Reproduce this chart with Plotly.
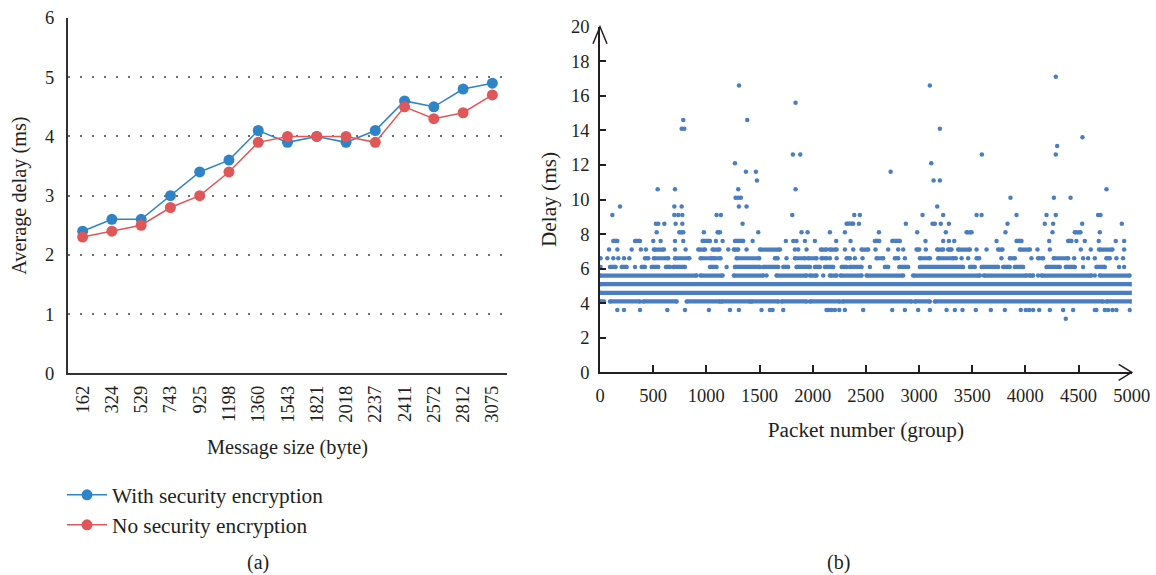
import plotly.graph_objects as go

# ---------------- Panel (a) data ----------------
message_sizes = ["162", "324", "529", "743", "925", "1198", "1360", "1543",
                 "1821", "2018", "2237", "2411", "2572", "2812", "3075"]
with_encryption = [2.4, 2.6, 2.6, 3.0, 3.4, 3.6, 4.1, 3.9, 4.0, 3.9, 4.1, 4.6, 4.5, 4.8, 4.9]
no_encryption = [2.3, 2.4, 2.5, 2.8, 3.0, 3.4, 3.9, 4.0, 4.0, 4.0, 3.9, 4.5, 4.3, 4.4, 4.7]

# ---------------- Panel (b) data ----------------
# Dense stretches of consecutive packets sharing one delay value: (first packet, last packet)
runs_4_1 = [(0, 38), (94, 376), (407, 721), (815, 1128), (1144, 1410), (1425, 1676),
            (1707, 1942), (1974, 2256), (2281, 2930), (2961, 3102), (3149, 4731), (4762, 5000)]
runs_4_6 = [(0, 5000)]
runs_5_1 = [(0, 5000)]
runs_5_6 = [(0, 909), (946, 1153), (1259, 1535), (1660, 1942), (1974, 2036), (2162, 2225),
            (2262, 2460), (2507, 2851), (2945, 3572), (3610, 4010), (4036, 4073),
            (4151, 4621), (4700, 4982)]
runs_6_1 = [(94, 147), (204, 251), (392, 423), (486, 548), (620, 658), (689, 799),
            (1034, 1096), (1269, 1504), (1535, 1676), (1723, 1770), (1848, 1974),
            (2021, 2068), (2115, 2193), (2272, 2319), (2350, 2460), (2679, 2710),
            (2814, 2898), (3008, 3415), (3478, 3525), (3588, 3744), (3791, 3854),
            (3901, 3979), (4199, 4324), (4380, 4465), (4668, 4747)]
runs_6_6 = [(423, 454), (507, 642), (705, 840), (946, 1050), (1071, 1134), (1285, 1497),
            (1645, 1670), (1833, 1927), (1958, 2036), (2083, 2130), (2319, 2350),
            (2601, 2663), (2773, 2804), (3008, 3102), (3180, 3321), (3541, 3566),
            (3854, 3901), (4120, 4167), (4267, 4402), (4762, 4794)]
runs_7_1 = [(507, 601), (924, 987), (1059, 1122), (1259, 1300), (1504, 1692), (2077, 2130),
            (2162, 2225), (2460, 2522), (2977, 3002), (3171, 3227), (3274, 3306),
            (3368, 3478), (3744, 3785), (3948, 4042), (4693, 4819)]
runs_7_6 = [(125, 163), (329, 376), (965, 1034), (1269, 1347), (2585, 2626), (2748, 2820),
            (3917, 3964), (4402, 4433)]
runs_8_1 = [(746, 783), (1106, 1128), (3447, 3494), (4465, 4518)]
runs_8_6 = [(2319, 2381)]

# Isolated packets (packet numbers) at each delay value
pts_3_1 = [4380]
pts_3_6 = [163, 226, 376, 633, 799, 1024, 1222, 1306, 1519, 1598, 1623, 1723, 2130, 2150,
           2177, 2209, 2250, 2303, 2475, 2748, 2867, 2992, 3102, 3259, 3337, 3409, 3534,
           3675, 3807, 3957, 4004, 4036, 4073, 4130, 4230, 4355, 4449, 4653, 4668, 4747,
           4778, 4819, 4856, 4982]
pts_5_6 = [1566, 2099, 4120, 4653]
pts_6_1 = [5, 329, 1191, 2538, 4543, 4881, 4929]
pts_6_6 = [5, 69, 125, 172, 226, 276, 1754, 2162, 2225, 2397, 2469, 2867, 3346, 3400, 3462,
           3775, 4057, 4459, 4543, 4590, 4653, 4856, 4919]
pts_7_1 = [85, 163, 298, 385, 432, 705, 805, 1206, 1378, 1833, 1864, 1942, 2303, 2381, 2591,
           2710, 2804, 2851, 3064, 3541, 3635, 4114, 4230, 4521, 4615, 4929]
pts_7_6 = [501, 570, 705, 783, 1090, 1153, 1435, 1748, 1817, 1848, 1927, 2021, 2221, 2356,
           3061, 3227, 3281, 3331, 3729, 4224, 4480, 4559, 4690, 4850, 4929]
pts_8_1 = [533, 977, 1488, 1895, 1952, 2162, 2303, 2623, 2983, 3252, 3813, 4255, 4700]
pts_8_6 = [526, 548, 605, 711, 774, 1341, 2435, 2876, 3127, 3149, 3205, 3281, 3832, 4183,
           4261, 4534, 4907]
pts_9_1 = [116, 699, 736, 774, 1096, 1137, 1808, 2391, 2444, 3033, 3227, 3541, 3588, 3917,
           4199, 4286, 4684, 4706]
pts_9_6 = [188, 699, 768, 1306, 1378, 3171]
pts_10_1 = [1275, 1300, 1325, 3860, 4268, 4425]
pts_10_6 = [542, 705, 1300, 1839, 4763]
pts_11_1 = [1476, 3137, 3196]
pts_11_6 = [1372, 1466, 2733]
pts_12_1 = [1269, 3115]
pts_12_6 = [1814, 1883, 3591, 4286]
pts_13_1 = [4299]
pts_13_6 = [4537]
pts_14_1 = [768, 793, 3196]
pts_14_6 = [783, 1385]
pts_15_6 = [1839]
pts_16_6 = [1307, 3102]
pts_17_1 = [4286]

run_groups = [(4.1, runs_4_1), (4.6, runs_4_6), (5.1, runs_5_1), (5.6, runs_5_6),
              (6.1, runs_6_1), (6.6, runs_6_6), (7.1, runs_7_1), (7.6, runs_7_6),
              (8.1, runs_8_1), (8.6, runs_8_6)]
point_groups = [(3.1, pts_3_1), (3.6, pts_3_6), (5.6, pts_5_6), (6.1, pts_6_1),
                (6.6, pts_6_6), (7.1, pts_7_1), (7.6, pts_7_6), (8.1, pts_8_1),
                (8.6, pts_8_6), (9.1, pts_9_1), (9.6, pts_9_6), (10.1, pts_10_1),
                (10.6, pts_10_6), (11.1, pts_11_1), (11.6, pts_11_6), (12.1, pts_12_1),
                (12.6, pts_12_6), (13.1, pts_13_1), (13.6, pts_13_6), (14.1, pts_14_1),
                (14.6, pts_14_6), (15.6, pts_15_6), (16.6, pts_16_6), (17.1, pts_17_1)]

# ---------------- styles ----------------
BLUE = "#2E84C6"
RED = "#E0575A"
DOT = "#4A7EC0"
INK = "#231F20"
FONT = "Liberation Serif"

run_x, run_y = [], []
for delay, runs in run_groups:
    for a, b in runs:
        run_x += [a, b, None]
        run_y += [delay, delay, None]
pt_x, pt_y = [], []
for delay, pkts in point_groups:
    pt_x += pkts
    pt_y += [delay] * len(pkts)

fig = go.Figure()
fig.add_trace(go.Scatter(x=message_sizes, y=with_encryption, mode="lines+markers",
                         name="With security encryption",
                         line=dict(color=BLUE, width=1.5),
                         marker=dict(color=BLUE, size=11),
                         xaxis="x", yaxis="y", legend="legend"))
fig.add_trace(go.Scatter(x=message_sizes, y=no_encryption, mode="lines+markers",
                         name="No security encryption",
                         line=dict(color=RED, width=1.5),
                         marker=dict(color=RED, size=11),
                         xaxis="x", yaxis="y", legend="legend2"))
fig.add_trace(go.Scatter(x=run_x, y=run_y, mode="lines+markers",
                         line=dict(color=DOT, width=4.2),
                         marker=dict(color=DOT, size=4.5),
                         showlegend=False, xaxis="x2", yaxis="y2", hoverinfo="skip"))
fig.add_trace(go.Scatter(x=pt_x, y=pt_y, mode="markers",
                         marker=dict(color=DOT, size=4.5),
                         showlegend=False, xaxis="x2", yaxis="y2"))

W, H = 1156, 575
tickfont = dict(family=FONT, size=18.5, color=INK)
titlefont_a = dict(family=FONT, size=20.3, color=INK)
titlefont_b = dict(family=FONT, size=21.3, color=INK)

XA0, XA1 = 600, 1131.7   # right panel x-axis pixel span
YB0, YB1 = 372.3, 26.7   # right panel y-axis pixel span (0 and 20)

fig.update_layout(
    width=W, height=H,
    margin=dict(l=0, r=0, t=0, b=0, autoexpand=False),
    paper_bgcolor="white", plot_bgcolor="white",
    font=dict(family=FONT, color=INK),
    xaxis=dict(domain=[68 / W, 507 / W], anchor="y", type="category", automargin=False,
               range=[-0.5, 14.5], showline=True, linecolor="#333333", linewidth=2,
               ticks="", tickangle=-90, tickfont=tickfont, showgrid=False,
               ticklabelstandoff=3,
               title=dict(text="Message size (byte)", font=titlefont_a, standoff=18)),
    yaxis=dict(domain=[1 - 373.3 / H, 1 - 18 / H], anchor="x", range=[0, 6], dtick=1,
               automargin=False,
               showline=True, linecolor="#333333", linewidth=2, ticks="",
               tickfont=tickfont, showgrid=True, gridcolor="#6f6f6f", gridwidth=1.5,
               griddash="1.5px,10.5px", zeroline=False, ticklabelstandoff=8,
               title=dict(text="Average delay (ms)", font=titlefont_a, standoff=13)),
    xaxis2=dict(domain=[XA0 / W, XA1 / W], anchor="y2", range=[0, 5000], automargin=False,
                tickvals=[0, 500, 1000, 1500, 2000, 2500, 3000, 3500, 4000, 4500, 5000],
                ticks="", showline=True, linecolor=INK, linewidth=1.5,
                showgrid=False, zeroline=False, tickfont=tickfont, ticklabelstandoff=6,
                minor=dict(tickmode="array",
                           tickvals=[500, 1000, 1500, 2000, 2500, 3000, 3500, 4000, 4500],
                           ticks="inside", ticklen=8, tickwidth=1.5, tickcolor=INK,
                           showgrid=False),
                title=dict(text="Packet number (group)", font=titlefont_b, standoff=17)),
    yaxis2=dict(domain=[1 - YB0 / H, 1 - YB1 / H], anchor="x2", range=[0, 20],
                automargin=False,
                tickvals=[0, 2, 4, 6, 8, 10, 12, 14, 16, 18, 20],
                ticks="", showline=True, linecolor=INK, linewidth=1.5,
                showgrid=False, zeroline=False, tickfont=tickfont, ticklabelstandoff=5,
                minor=dict(tickmode="array",
                           tickvals=[2, 4, 6, 8, 10, 12, 14, 16, 18],
                           ticks="inside", ticklen=6, tickwidth=1.5, tickcolor=INK,
                           showgrid=False),
                title=dict(text="Delay (ms)", font=titlefont_b, standoff=9)),
    legend=dict(x=62 / W, y=1 - 495 / H, xanchor="left", yanchor="middle",
                font=dict(family=FONT, size=21.3, color=INK), bgcolor="rgba(0,0,0,0)",
                itemwidth=40),
    legend2=dict(x=62 / W, y=1 - 525 / H, xanchor="left", yanchor="middle",
                 font=dict(family=FONT, size=21.3, color=INK), bgcolor="rgba(0,0,0,0)",
                 itemwidth=40),
    annotations=[
        dict(text="(a)", x=258 / W, y=1 - 562 / H, xref="paper", yref="paper",
             xanchor="center", yanchor="middle",
             showarrow=False, font=dict(family=FONT, size=20, color=INK)),
        dict(text="(b)", x=838 / W, y=1 - 562 / H, xref="paper", yref="paper",
             xanchor="center", yanchor="middle",
             showarrow=False, font=dict(family=FONT, size=20, color=INK)),
    ],
    shapes=[
        dict(type="path", xref="paper", yref="paper", xsizemode="pixel", ysizemode="pixel",
             xanchor=XA0 / W, yanchor=1 - YB1 / H, path="M-7,-17 L0,0 L7,-17",
             line=dict(color=INK, width=1.5)),
        dict(type="path", xref="paper", yref="paper", xsizemode="pixel", ysizemode="pixel",
             xanchor=XA1 / W, yanchor=1 - YB0 / H, path="M-13,8 L0,0 L-13,-8",
             line=dict(color=INK, width=1.5)),
    ],
)

fig.write_html(
    "out.html",
    config={"displayModeBar": False},
    post_script="document.documentElement.style.margin='0';"
                "document.body.style.margin='0';"
                "document.body.style.overflow='hidden';",
)
